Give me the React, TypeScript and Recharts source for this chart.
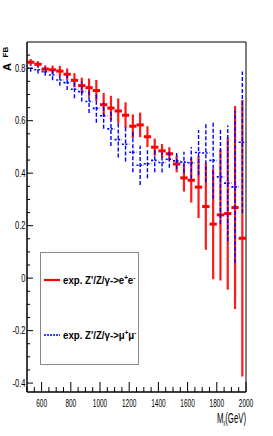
import { ScatterChart, Scatter, XAxis, YAxis, ErrorBar, ReferenceArea, Legend } from 'recharts';

// mass bins (GeV), 50 GeV wide
const binCenters = [525, 575, 625, 675, 725, 775, 825, 875, 925, 975, 1025, 1075, 1125, 1175, 1225, 1275, 1325, 1375, 1425, 1475, 1525, 1575, 1625, 1675, 1725, 1775, 1825, 1875, 1925, 1975];
const binHalfWidth = 25;

// Z'/Z/gamma -> e+e-
const eeAfb = [0.823, 0.815, 0.797, 0.794, 0.789, 0.777, 0.754, 0.734, 0.726, 0.715, 0.661, 0.648, 0.637, 0.621, 0.579, 0.584, 0.539, 0.499, 0.485, 0.474, 0.435, 0.382, 0.373, 0.347, 0.273, 0.206, 0.241, 0.246, 0.269, 0.152];
const eeErr = [0.012, 0.012, 0.014, 0.016, 0.02, 0.022, 0.027, 0.03, 0.035, 0.04, 0.045, 0.047, 0.048, 0.049, 0.045, 0.047, 0.04, 0.033, 0.026, 0.025, 0.032, 0.052, 0.085, 0.118, 0.165, 0.21, 0.25, 0.29, 0.387, 0.527];

// Z'/Z/gamma -> mu+mu-
const mmAfb = [0.8, 0.794, 0.787, 0.774, 0.755, 0.745, 0.72, 0.711, 0.673, 0.647, 0.619, 0.569, 0.528, 0.51, 0.48, 0.43, 0.436, 0.449, 0.441, 0.453, 0.447, 0.442, 0.44, 0.479, 0.477, 0.449, 0.386, 0.362, 0.348, 0.518];
const mmErr = [0.013, 0.014, 0.016, 0.02, 0.022, 0.028, 0.034, 0.038, 0.044, 0.055, 0.05, 0.065, 0.068, 0.065, 0.076, 0.075, 0.055, 0.045, 0.038, 0.032, 0.03, 0.04, 0.06, 0.086, 0.112, 0.146, 0.18, 0.22, 0.29, 0.27];

const xTicks = [500, 550, 600, 650, 700, 750, 800, 850, 900, 950, 1000, 1050, 1100, 1150, 1200, 1250, 1300, 1350, 1400, 1450, 1500, 1550, 1600, 1650, 1700, 1750, 1800, 1850, 1900, 1950, 2000];
const xLabels = [600, 800, 1000, 1200, 1400, 1600, 1800, 2000];
const yTicks = [-0.4, -0.35, -0.3, -0.25, -0.2, -0.15, -0.1, -0.05, 0, 0.05, 0.1, 0.15, 0.2, 0.25, 0.3, 0.35, 0.4, 0.45, 0.5, 0.55, 0.6, 0.65, 0.7, 0.75, 0.8, 0.85];
const yLabels = [-0.4, -0.2, 0, 0.2, 0.4, 0.6, 0.8];

const X_DOMAIN: [number, number] = [500, 2000];
const Y_DOMAIN: [number, number] = [-0.434, 0.9];
const FONT = '"Liberation Sans", Arial, Helvetica, sans-serif';

const eeData = binCenters.map((x, i) => ({ x, y: eeAfb[i], err: eeErr[i], xErr: binHalfWidth }));
const mmData = binCenters.map((x, i) => ({ x, y: mmAfb[i], err: mmErr[i], xErr: binHalfWidth }));

const noShape = () => <g />;

const XTick = (props: any) => {
  const { x, y, payload } = props;
  const major = xLabels.includes(payload.value);
  return (
    <g>
      <line x1={x} x2={x} y1={y} y2={y - (major ? 10 : 5)} stroke="#000" />
      {major && (
        <text transform={`translate(${x},${y + 15}) scale(0.62,1)`} textAnchor="middle" fontSize={10.5} fontFamily={FONT} fill="#000">
          {payload.value}
        </text>
      )}
    </g>
  );
};

const YTick = (props: any) => {
  const { x, y, payload } = props;
  const v = payload.value;
  const major = yLabels.some((l) => Math.abs(l - v) < 1e-6);
  return (
    <g>
      <line x1={x} x2={x + (major ? 6 : 3)} y1={y} y2={y} stroke="#000" />
      {major && (
        <text transform={`translate(${x - 1.5},${y + 3.7}) scale(0.72,1)`} textAnchor="end" fontSize={10.5} fontFamily={FONT} fill="#000">
          {Math.abs(v) < 1e-6 ? '0' : v.toFixed(1)}
        </text>
      )}
    </g>
  );
};

const XTitle = (props: any) => {
  const vb = props.viewBox || { x: 27, y: 392, width: 219 };
  return (
    <g transform={`translate(${vb.x + vb.width},${vb.y + 31}) scale(0.52,1)`}>
      <text x={0} y={0} textAnchor="end" fontSize={15} fontFamily={FONT} fill="#000">
        M<tspan fontSize={8} dy={3}>ll</tspan>
        <tspan dy={-3}>(GeV)</tspan>
      </text>
    </g>
  );
};

// rotated y-axis title, laid over the chart
const YTitle = () => (
  <svg width={27} height={80} style={{ position: 'absolute', left: 0, top: 0, pointerEvents: 'none' }}>
    <text transform="translate(10.5,71) rotate(-90)" fontSize={11} fontWeight="bold" fontFamily={FONT} fill="#000">
      A
    </text>
    <text transform="translate(7.8,57.5) rotate(-90)" fontSize={8} fontWeight="bold" fontFamily={FONT} fill="#000">
      FB
    </text>
  </svg>
);

const LegendBox = () => (
  <svg width={99} height={113} style={{ display: 'block' }}>
    <rect x={0.5} y={0.5} width={98} height={112} fill="#fff" stroke="#888" />
    <line x1={4} x2={20} y1={28} y2={28} stroke="#f00" strokeWidth={2.2} />
    <g transform="translate(23,32) scale(0.88,1)">
      <text x={0} y={0} fontSize={11} fontWeight="bold" fontFamily={FONT} fill="#000">
        exp. Z'/Z/γ-&gt;e<tspan fontSize={7} dy={-4}>+</tspan>
        <tspan dy={4}>e</tspan>
        <tspan fontSize={7} dy={-4}>-</tspan>
      </text>
    </g>
    <line x1={4} x2={20} y1={83} y2={83} stroke="#00f" strokeWidth={1.6} strokeDasharray="2 1" />
    <g transform="translate(23,87) scale(0.88,1)">
      <text x={0} y={0} fontSize={11} fontWeight="bold" fontFamily={FONT} fill="#000">
        exp. Z'/Z/γ-&gt;μ<tspan fontSize={7} dy={-4}>+</tspan>
        <tspan dy={4}>μ</tspan>
        <tspan fontSize={7} dy={-4}>-</tspan>
      </text>
    </g>
  </svg>
);

export default function App() {
  return (
    <div style={{ position: 'absolute', left: 0, top: 0, width: 273, height: 436, background: '#fff' }}>
      <ScatterChart width={273} height={436} margin={{ top: 42, right: 27, bottom: 0, left: 0 }}>
        <XAxis
          dataKey="x"
          type="number"
          domain={X_DOMAIN}
          ticks={xTicks}
          interval={0}
          tickSize={0}
          tickMargin={0}
          tickLine={false}
          tick={<XTick />}
          axisLine={{ stroke: '#000' }}
          height={44}
          allowDataOverflow
          label={XTitle}
        />
        <YAxis
          dataKey="y"
          type="number"
          domain={Y_DOMAIN}
          ticks={yTicks}
          interval={0}
          tickSize={0}
          tickMargin={0}
          tickLine={false}
          tick={<YTick />}
          axisLine={{ stroke: '#000' }}
          width={27}
          allowDataOverflow
        />
        <ReferenceArea x1={X_DOMAIN[0]} x2={X_DOMAIN[1]} y1={Y_DOMAIN[0]} y2={Y_DOMAIN[1]} fill="none" stroke="#000" strokeWidth={1} />
        <Scatter data={eeData} shape={noShape} isAnimationActive={false} legendType="none">
          <ErrorBar dataKey="err" direction="y" width={0} stroke="#ff1a1a" strokeWidth={2.2} isAnimationActive={false} />
          <ErrorBar dataKey="xErr" direction="x" width={0} stroke="#f00" strokeWidth={3} isAnimationActive={false} />
        </Scatter>
        <Scatter data={mmData} shape={noShape} isAnimationActive={false} legendType="none">
          <ErrorBar dataKey="err" direction="y" width={0} stroke="#0000ff" strokeWidth={1.4} strokeDasharray="4 2" isAnimationActive={false} />
          <ErrorBar dataKey="xErr" direction="x" width={0} stroke="#0000ff" strokeWidth={1.6} strokeDasharray="2 1.5" isAnimationActive={false} />
        </Scatter>
        <Legend
          layout="vertical"
          align="center"
          verticalAlign="middle"
          content={<LegendBox />}
          wrapperStyle={{ left: 40, top: 252, width: 99, height: 113 }}
        />
      </ScatterChart>
      <YTitle />
    </div>
  );
}
